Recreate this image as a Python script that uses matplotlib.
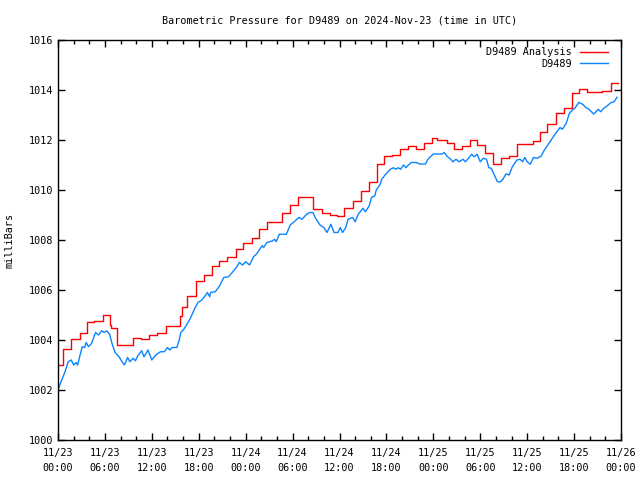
import numpy as np
import matplotlib
matplotlib.use("Agg")
import matplotlib.pyplot as plt
from matplotlib.ticker import MultipleLocator

# hours since 2024-11-23 00:00 UTC
t_ana = [0, 0.68, 1.6, 2.8, 3.75, 4.6, 5.7, 6.6, 6.8, 7.6, 9.55, 10.6, 11.7, 12.7,
         13.8, 15.6, 15.8, 16.5, 17.6, 18.7, 19.65, 20.6, 21.65, 22.8, 23.7, 24.8, 25.7,
         26.7, 28.7, 29.7, 30.65, 32.6, 33.7, 34.8, 35.7, 36.6, 37.7, 38.7, 39.8,
         40.75, 41.7, 42.7, 43.7, 44.7, 45.8, 46.8, 47.8, 48.5, 49.7, 50.6, 51.7,
         52.7, 53.6, 54.6, 55.6, 56.6, 57.7, 58.7, 60.7, 61.6, 62.6, 63.7, 64.7,
         65.7, 66.6, 67.7, 69.6, 70.75, 71.6]
p_ana = [1003.0, 1003.63, 1004.03, 1004.27, 1004.71, 1004.76, 1005.0, 1004.6,
         1004.47, 1003.8, 1004.1, 1004.03, 1004.2, 1004.3, 1004.56, 1004.96, 1005.31,
         1005.77, 1006.36, 1006.6, 1006.95, 1007.16, 1007.31, 1007.63, 1007.87,
         1008.08, 1008.44, 1008.73, 1009.07, 1009.4, 1009.72, 1009.23, 1009.1,
         1009.0, 1008.95, 1009.27, 1009.56, 1009.96, 1010.31, 1011.03, 1011.36,
         1011.4, 1011.63, 1011.78, 1011.63, 1011.87, 1012.1, 1012.0, 1011.87,
         1011.63, 1011.75, 1011.99, 1011.79, 1011.48, 1011.03, 1011.27, 1011.35,
         1011.84, 1011.95, 1012.31, 1012.64, 1013.07, 1013.29, 1013.89, 1014.03,
         1013.91, 1013.96, 1014.27, 1014.27]

t_obs = [0, 0.47, 0.9, 1.3, 1.7, 2.0, 2.3, 2.5, 3.1, 3.4, 3.6, 3.9, 4.3, 4.8, 5.2,
         5.6, 5.9, 6.2, 6.6, 6.9, 7.3, 7.8, 8.2, 8.5, 8.9, 9.2, 9.6, 9.9, 10.2,
         10.7, 11.0, 11.5, 12.0, 12.5, 13.1, 13.6, 14.0, 14.3, 14.6, 15.2, 15.5,
         15.7, 16.1, 16.9, 17.5, 17.9, 18.4, 18.9, 19.1, 19.4, 19.5, 20.1, 20.6,
         21.2, 21.8, 22.2, 22.8, 23.2, 23.6, 24.0, 24.5, 25.0, 25.4, 26.1, 26.3,
         26.7, 27.4, 27.7, 27.9, 28.3, 29.2, 29.7, 30.2, 30.8, 31.2, 31.8, 32.2,
         32.6, 32.9, 33.5, 34.0, 34.4, 34.9, 35.3, 35.8, 36.1, 36.4, 36.8, 37.1,
         37.7, 38.0, 38.4, 39.0, 39.3, 39.8, 40.1, 40.5, 40.7, 41.2, 41.4, 41.9,
         42.5, 42.9, 43.2, 43.5, 43.8, 44.2, 44.5, 44.8, 45.2, 45.8, 46.3, 47.0,
         47.3, 48.0, 49.1, 49.4, 49.8, 50.1, 50.5, 50.9, 51.3, 51.8, 52.1, 52.5,
         52.9, 53.2, 53.6, 54.0, 54.4, 54.8, 55.1, 55.4, 55.8, 56.2, 56.6, 56.9,
         57.3, 57.7, 58.1, 58.7, 59.1, 59.4, 59.7, 60.0, 60.4, 60.8, 61.3, 61.8,
         62.2, 62.8, 63.4, 63.8, 64.2, 64.5, 65.0, 65.4, 65.8, 66.1, 66.6, 67.1,
         67.5, 67.9, 68.5, 68.8, 69.1, 69.4, 69.8, 70.2, 70.7, 71.1, 71.5]
p_obs = [1002.0, 1002.4, 1002.73, 1003.13, 1003.2, 1003.0, 1003.1, 1003.0, 1003.73,
         1003.7, 1003.9, 1003.73, 1003.87, 1004.3, 1004.2, 1004.37, 1004.3, 1004.37,
         1004.23, 1003.87, 1003.5, 1003.33, 1003.13, 1003.0, 1003.3, 1003.13,
         1003.27, 1003.17, 1003.37, 1003.57, 1003.33, 1003.6, 1003.2, 1003.4,
         1003.53, 1003.53, 1003.7, 1003.6, 1003.7, 1003.7, 1004.0, 1004.3, 1004.43,
         1004.85, 1005.27, 1005.5, 1005.6, 1005.8, 1005.9, 1005.73, 1005.9, 1005.93,
         1006.13, 1006.5, 1006.53, 1006.67, 1006.9, 1007.1, 1007.0, 1007.13, 1007.0,
         1007.33, 1007.44, 1007.77, 1007.7, 1007.9, 1007.96, 1008.03, 1007.93,
         1008.23, 1008.23, 1008.6, 1008.73, 1008.9, 1008.83, 1009.03, 1009.1,
         1009.1, 1008.89, 1008.6, 1008.5, 1008.3, 1008.63, 1008.3, 1008.3, 1008.5,
         1008.3, 1008.5, 1008.83, 1008.9, 1008.73, 1009.03, 1009.27, 1009.13,
         1009.36, 1009.71, 1009.76, 1010.0, 1010.23, 1010.43, 1010.63, 1010.83,
         1010.89, 1010.83, 1010.89, 1010.83, 1011.0, 1010.89, 1011.0, 1011.1,
         1011.1, 1011.04, 1011.04, 1011.23, 1011.44, 1011.44, 1011.5, 1011.33,
         1011.27, 1011.13, 1011.23, 1011.13, 1011.23, 1011.13, 1011.27, 1011.43,
         1011.33, 1011.43, 1011.13, 1011.27, 1011.23, 1010.89, 1010.87, 1010.6,
         1010.33, 1010.33, 1010.43, 1010.65, 1010.6, 1010.93, 1011.2, 1011.23,
         1011.13, 1011.3, 1011.13, 1011.03, 1011.3, 1011.27, 1011.36, 1011.6,
         1011.87, 1012.16, 1012.33, 1012.5, 1012.43, 1012.67, 1013.07, 1013.2,
         1013.27, 1013.5, 1013.43, 1013.3, 1013.23, 1013.04, 1013.13, 1013.23,
         1013.13, 1013.27, 1013.36, 1013.49, 1013.53, 1013.71]

xtick_hours = list(range(0, 73, 6))
xtick_labels = ["11/23\n00:00", "11/23\n06:00", "11/23\n12:00", "11/23\n18:00",
                "11/24\n00:00", "11/24\n06:00", "11/24\n12:00", "11/24\n18:00",
                "11/25\n00:00", "11/25\n06:00", "11/25\n12:00", "11/25\n18:00",
                "11/26\n00:00"]

plt.rcParams['font.family'] = ['DejaVu Sans Mono']
fs = 7.3

fig = plt.figure(figsize=(6.4, 4.8), dpi=100)
ax = fig.add_axes([58/640, 40/480, 563/640, 400/480])

ax.plot(t_ana, p_ana, drawstyle="steps-post", color="#ff0000", lw=1.0,
        label="D9489 Analysis")
ax.plot(t_obs, p_obs, color="#0a84ff", lw=1.0, label="D9489")

ax.set_xlim(0, 72)
ax.set_ylim(1000, 1016)
ax.set_xticks(xtick_hours)
ax.set_xticklabels(xtick_labels, fontsize=fs, linespacing=1.6)
ax.xaxis.set_minor_locator(MultipleLocator(2))
ax.yaxis.set_major_locator(MultipleLocator(2))
ax.tick_params(axis="y", labelsize=fs)
ax.tick_params(axis="x", pad=6)
ax.tick_params(which="both", direction="in", top=True, right=True, width=1)
ax.tick_params(which="major", length=5)
ax.tick_params(which="minor", length=3)
for s in ax.spines.values():
    s.set_linewidth(1)

ax.set_ylabel("milliBars", fontsize=fs, labelpad=10)
ax.set_title("Barometric Pressure for D9489 on 2024-Nov-23 (time in UTC)",
             fontsize=fs, pad=12)
ax.legend(loc="upper right", bbox_to_anchor=(0.99, 1.0), frameon=False,
          markerfirst=False, fontsize=fs, handlelength=2.8,
          borderaxespad=0.3, labelspacing=0.15)

plt.savefig("out.png", dpi=100)
